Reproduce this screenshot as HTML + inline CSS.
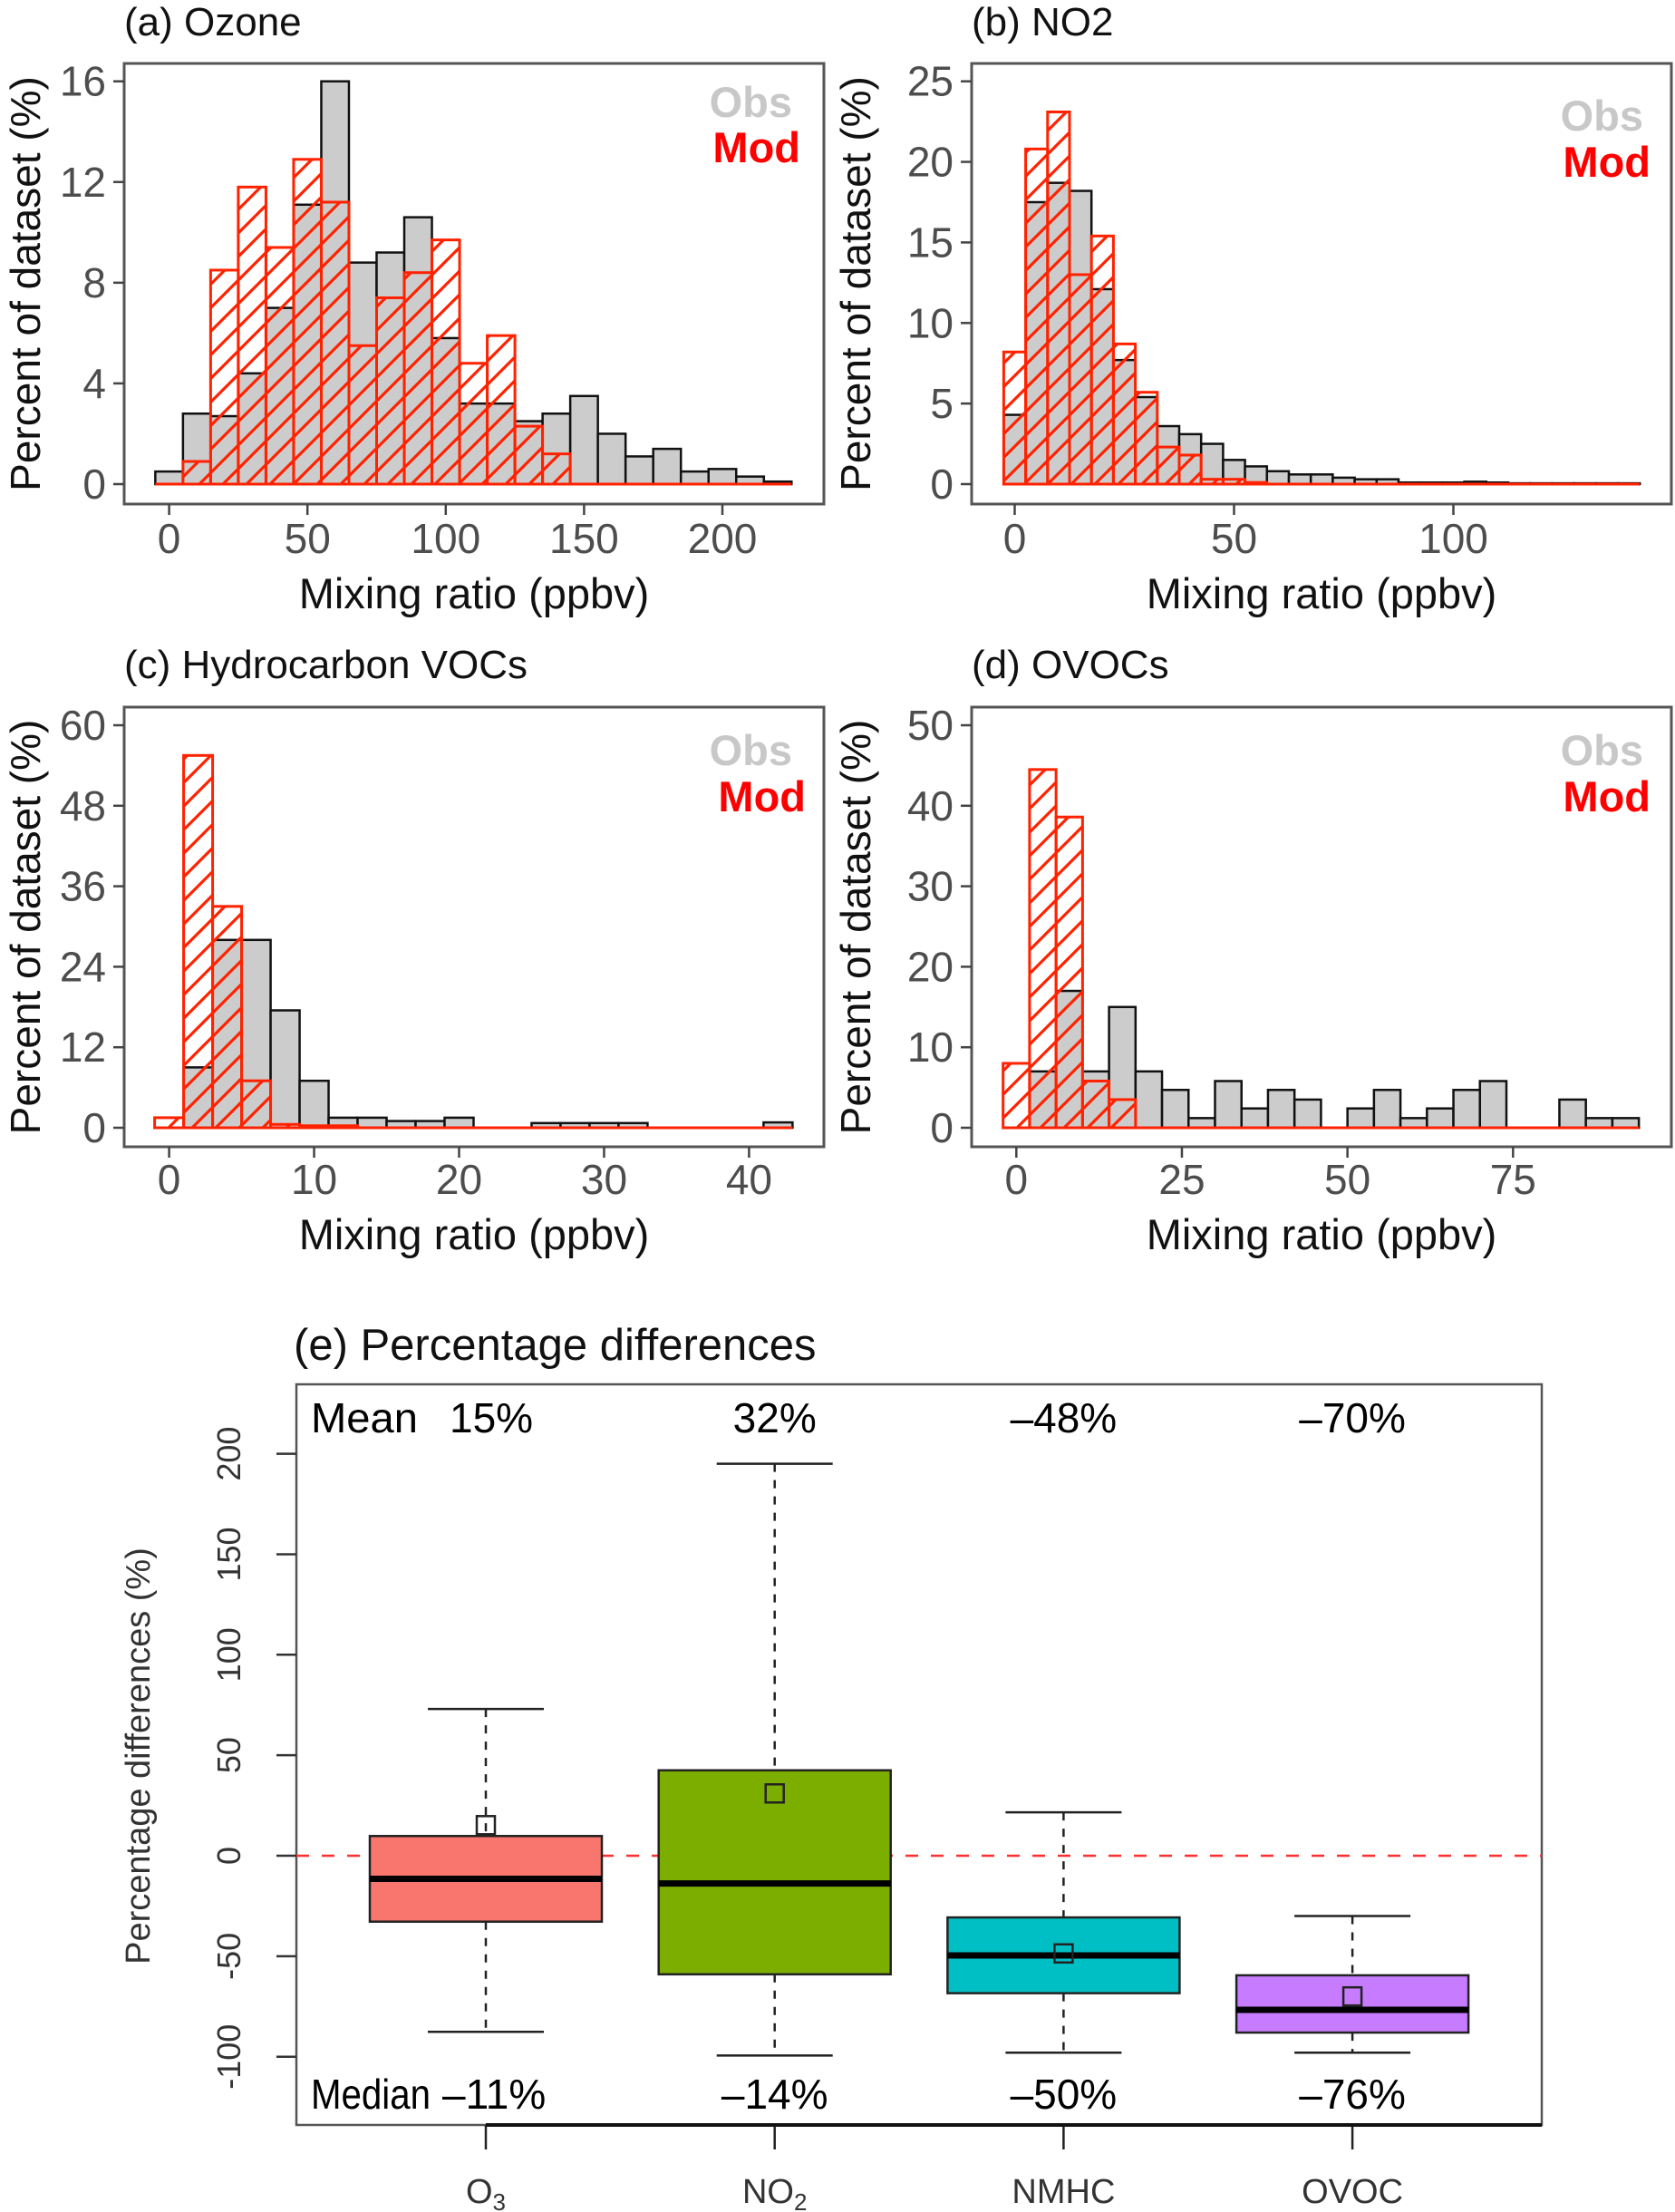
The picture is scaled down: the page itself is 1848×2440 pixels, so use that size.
<!DOCTYPE html>
<html><head><meta charset="utf-8"><style>
html,body{margin:0;padding:0;background:#fff;}
svg{display:block;font-family:"Liberation Sans",sans-serif;}
</style></head><body>
<svg id="fig" width="1848" height="2440" viewBox="0 0 1848 2440" xmlns="http://www.w3.org/2000/svg">
<defs>
<pattern id="hatch" patternUnits="userSpaceOnUse" width="26" height="26">
<line x1="-2" y1="28" x2="28" y2="-2" stroke="#ff2200" stroke-width="3.2"/>
<line x1="-6" y1="6" x2="6" y2="-6" stroke="#ff2200" stroke-width="3.2"/>
<line x1="20" y1="32" x2="32" y2="20" stroke="#ff2200" stroke-width="3.2"/>
</pattern>
</defs>
<g id="panels"></g>
</svg>
<script>
// ---- Histogram data (percent of dataset) ----
const ozoneBins = [0,10,20,30,40,50,60,70,80,90,100,110,120,130,140,150,160,170,180,190,200,210,220];
const ozoneObs  = [0.5,2.8,2.7,4.4,7.0,11.1,16.0,8.8,9.2,10.6,5.8,3.2,3.2,2.5,2.8,3.5,2.0,1.1,1.4,0.5,0.6,0.3,0.1];
const ozoneMod  = [0,0.9,8.5,11.8,9.4,12.9,11.2,5.5,7.4,8.4,9.7,4.8,5.9,2.3,1.2,0,0,0,0,0,0,0,0];
const ozoneYTicks = [0,4,8,12,16];
const ozoneXTicks = [0,50,100,150,200];

const no2Bins = [0,5,10,15,20,25,30,35,40,45,50,55,60,65,70,75,80,85,90,95,100,105,110,115,120,125,130,135,140];
const no2Obs  = [4.3,17.5,18.7,18.2,12.1,7.7,5.4,3.6,3.1,2.5,1.5,1.1,0.8,0.6,0.6,0.4,0.3,0.3,0.1,0.1,0.1,0.15,0.1,0.05,0.05,0.05,0.05,0.05,0.05];
const no2Mod  = [8.2,20.8,23.1,13.0,15.4,8.7,5.7,2.3,1.8,0.3,0.3,0.1,0,0,0,0,0,0,0,0,0,0,0,0,0,0,0,0,0];
const no2YTicks = [0,5,10,15,20,25];
const no2XTicks = [0,50,100];

const hcBins = [0,2,4,6,8,10,12,14,16,18,20,22,24,26,28,30,32,34,36,38,40,42];
const hcObs  = [0,9,28,28,17.5,7,1.5,1.5,1,1,1.5,0,0,0.7,0.7,0.7,0.7,0,0,0,0,0.8];
const hcMod  = [1.5,55.5,33,7,0.5,0.3,0.3,0,0,0,0,0,0,0,0,0,0,0,0,0,0,0];
const hcYTicks = [0,12,24,36,48,60];
const hcXTicks = [0,10,20,30,40];

const ovocBins = [0,4,8,12,16,20,24,28,32,36,40,44,48,52,56,60,64,68,72,76,80,84,88,92];
const ovocObs  = [0,7,17,7,15,7,4.7,1.2,5.8,2.4,4.7,3.5,0,2.4,4.7,1.2,2.4,4.7,5.8,0,0,3.5,1.2,1.2];
const ovocMod  = [8,44.5,38.6,5.8,3.5,0,0,0,0,0,0,0,0,0,0,0,0,0,0,0,0,0,0,0];
const ovocYTicks = [0,10,20,30,40,50];
const ovocXTicks = [0,25,50,75];

// ---- Boxplot data (percentage differences) ----
const boxCats    = ['O3','NO2','NMHC','OVOC'];
const boxUpper   = [73, 195, 21.6, -30];
const boxQ3      = [9.8, 42.5, -30.7, -59.5];
const boxMedian  = [-11.5, -13.8, -49.6, -76.7];
const boxQ1      = [-32.8, -59, -68.4, -88];
const boxLower   = [-87.6, -99.4, -98, -98];
const boxMean    = [15.2, 31, -48.6, -70];
const meanLabels = ['15%','32%','\u201348%','\u201370%'];
const medianLabels = ['\u201311%','\u201314%','\u201350%','\u201376%'];
const boxYTicks  = [-100,-50,0,50,100,150,200];

const NS = 'http://www.w3.org/2000/svg';
const root = document.getElementById('panels');
function mk(tag, attrs, parent, text){
  const e = document.createElementNS(NS, tag);
  for (const k in attrs) e.setAttribute(k, attrs[k]);
  if (text !== undefined) e.textContent = text;
  (parent || root).appendChild(e);
  return e;
}

function histogram(key, title, bins, obs, mod, yTicks, xTicks, binW, g){
  const grp = mk('g', {});
  
  
  const xs = v => g.x0 + (v - g.v0) * (g.x1 - g.x0) / (g.v1 - g.v0);
  const ys = v => g.y0 + (v - g.u0) * (g.y1 - g.y0) / (g.u1 - g.u0);
  const t = mk('text', {x: g.left, y: g.titleY, 'font-size': 44, fill: '#111'}, grp, title);
  
  
  function bar(c, v, fill, stroke, sw, name){
    const xa = xs(c - binW/2), xb = xs(c + binW/2);
    let el;
    if (v > 0) {
      el = mk('rect', {x: xa, y: ys(v), width: xb - xa, height: ys(0) - ys(v), fill: fill, stroke: stroke, 'stroke-width': sw}, grp);
    } else {
      el = mk('line', {x1: xa, x2: xb, y1: ys(0), y2: ys(0), stroke: stroke, 'stroke-width': sw}, grp);
    }
    
    
  }
  bins.forEach((c, i) => bar(c, obs[i], '#cccccc', '#111', 2.5, key + '-obs-bar'));
  bins.forEach((c, i) => bar(c, mod[i], 'url(#hatch)', '#ff2200', 3, key + '-mod-bar'));
  const f = mk('rect', {x: g.left, y: g.top, width: g.right - g.left, height: g.bottom - g.top, fill: 'none', stroke: '#555', 'stroke-width': 3}, grp);
  
  
  yTicks.forEach(v => {
    mk('line', {x1: g.left - 12, x2: g.left, y1: ys(v), y2: ys(v), stroke: '#444', 'stroke-width': 2.5}, grp);
    const l = mk('text', {x: g.left - 20, y: ys(v) + 16, 'font-size': 46, fill: '#4d4d4d', 'text-anchor': 'end'}, grp, String(v));
    
    
  });
  xTicks.forEach(v => {
    mk('line', {x1: xs(v), x2: xs(v), y1: g.bottom, y2: g.bottom + 12, stroke: '#444', 'stroke-width': 2.5}, grp);
    const l = mk('text', {x: xs(v), y: g.xTickY, 'font-size': 46, fill: '#4d4d4d', 'text-anchor': 'middle'}, grp, String(v));
    
    
  });
  const xt = mk('text', {x: (g.left + g.right)/2, y: g.xTitleY, 'font-size': 47, fill: '#111', 'text-anchor': 'middle'}, grp, 'Mixing ratio (ppbv)');
  
  
  const yt = mk('text', {x: 0, y: 0, 'font-size': 46, fill: '#111', 'text-anchor': 'middle', transform: 'translate(' + g.yTitleX + ',' + ((g.top + g.bottom)/2) + ') rotate(-90)'}, grp, 'Percent of dataset (%)');
  
  
  const lo = mk('text', {x: g.obsX, y: g.obsY, 'font-size': 47, 'font-weight': 'bold', fill: '#c8c8c8', 'text-anchor': 'end'}, grp, 'Obs');
  
  
  const lm = mk('text', {x: g.modX, y: g.modY, 'font-size': 47, 'font-weight': 'bold', fill: '#ff0000', 'text-anchor': 'end'}, grp, 'Mod');
  
  
}

histogram('ozone', '(a) Ozone', ozoneBins, ozoneObs, ozoneMod, ozoneYTicks, ozoneXTicks, 10,
  {left:137,right:909,top:70,bottom:556,x0:186.6,x1:797,v0:0,v1:200,y0:534,y1:89.7,u0:0,u1:16,titleY:39,xTickY:610,xTitleY:671,yTitleX:44,obsX:874,obsY:129,modX:883,modY:179});
histogram('no2', '(b) NO2', no2Bins, no2Obs, no2Mod, no2YTicks, no2XTicks, 5,
  {left:1072,right:1844,top:70,bottom:556,x0:1119.5,x1:1603.5,v0:0,v1:100,y0:534,y1:89.7,u0:0,u1:25,titleY:39,xTickY:610,xTitleY:671,yTitleX:960,obsX:1813,obsY:144,modX:1821,modY:195});
histogram('hydrocarbon', '(c) Hydrocarbon VOCs', hcBins, hcObs, hcMod, hcYTicks, hcXTicks, 2,
  {left:137,right:909,top:780,bottom:1265,x0:186.6,x1:826.4,v0:0,v1:40,y0:1244,y1:800,u0:0,u1:60,titleY:748,xTickY:1317,xTitleY:1378,yTitleX:44,obsX:874,obsY:844,modX:889,modY:895});
histogram('ovoc', '(d) OVOCs', ovocBins, ovocObs, ovocMod, ovocYTicks, ovocXTicks, 4,
  {left:1072,right:1844,top:780,bottom:1265,x0:1121.3,x1:1669.3,v0:0,v1:75,y0:1244,y1:800,u0:0,u1:50,titleY:748,xTickY:1317,xTitleY:1378,yTitleX:960,obsX:1813,obsY:844,modX:1821,modY:895});

// ---- Boxplot panel ----
(function(){
  const grp = mk('g', {});
  
  
  const L = 327, R = 1701, T = 1527, B = 2344;
  const ys = v => 2047 - v * 2.217;
  const xs = i => 536 + i * 318.7;
  const colors = ['#F8766D','#7CAE00','#00BFC4','#C77CFF'];
  const t = mk('text', {x: 324, y: 1500, 'font-size': 49, fill: '#111'}, grp, '(e) Percentage differences');
  
  
  const f = mk('rect', {x: L, y: T, width: R - L, height: B - T, fill: 'none', stroke: '#555', 'stroke-width': 2.5}, grp);
  
  
  const ref = mk('line', {x1: L, x2: R, y1: ys(0), y2: ys(0), stroke: '#ff3030', 'stroke-width': 2.5, 'stroke-dasharray': '14 14'}, grp);
  
  
  boxCats.forEach((c, i) => {
    const x = xs(i);
    const bg = mk('g', {}, grp);
    
    
    mk('line', {x1: x, x2: x, y1: ys(boxUpper[i]), y2: ys(boxQ3[i]), stroke: '#222', 'stroke-width': 2.5, 'stroke-dasharray': '9 9'}, bg);
    mk('line', {x1: x, x2: x, y1: ys(boxQ1[i]), y2: ys(boxLower[i]), stroke: '#222', 'stroke-width': 2.5, 'stroke-dasharray': '9 9'}, bg);
    mk('line', {x1: x - 64, x2: x + 64, y1: ys(boxUpper[i]), y2: ys(boxUpper[i]), stroke: '#222', 'stroke-width': 2.5}, bg);
    mk('line', {x1: x - 64, x2: x + 64, y1: ys(boxLower[i]), y2: ys(boxLower[i]), stroke: '#222', 'stroke-width': 2.5}, bg);
    mk('rect', {x: x - 128, y: ys(boxQ3[i]), width: 256, height: ys(boxQ1[i]) - ys(boxQ3[i]), fill: colors[i], stroke: '#222', 'stroke-width': 2.5}, bg);
    mk('line', {x1: x - 128, x2: x + 128, y1: ys(boxMedian[i]), y2: ys(boxMedian[i]), stroke: '#000', 'stroke-width': 7}, bg);
    const m = mk('rect', {x: x - 10, y: ys(boxMean[i]) - 10, width: 20, height: 20, fill: 'none', stroke: '#222', 'stroke-width': 2.5}, bg);
    
    
    mk('line', {x1: x, x2: x, y1: B, y2: B + 27, stroke: '#222', 'stroke-width': 2.5}, grp);
    const ml = mk('text', {x: i === 0 ? 496 : x, y: 1580, 'font-size': 46, fill: '#000', 'text-anchor': i === 0 ? 'start' : 'middle'}, grp, meanLabels[i]);
    
    
    const dl = mk('text', {x: i === 0 ? 488 : x, y: 2326, 'font-size': 46, fill: '#000', 'text-anchor': i === 0 ? 'start' : 'middle'}, grp, medianLabels[i]);
    
    
  });
  mk('line', {x1: xs(0), x2: R, y1: B, y2: B, stroke: '#111', 'stroke-width': 4}, grp);
  const mw = mk('text', {x: 343, y: 1580, 'font-size': 46, fill: '#000', textLength: 118, lengthAdjust: 'spacingAndGlyphs'}, grp, 'Mean');
  
  
  const dw = mk('text', {x: 343, y: 2326, 'font-size': 46, fill: '#000', textLength: 132, lengthAdjust: 'spacingAndGlyphs'}, grp, 'Median');
  
  
  const xl = [['O','3'],['NO','2'],['NMHC',''],['OVOC','']];
  xl.forEach((p, i) => {
    const tx = mk('text', {x: xs(i), y: 2430, 'font-size': 38, fill: '#333', 'text-anchor': 'middle'}, grp);
    
    
    mk('tspan', {}, tx, p[0]);
    if (p[1]) mk('tspan', {'font-size': 26, dy: 8}, tx, p[1]);
  });
  boxYTicks.forEach(v => {
    mk('line', {x1: L - 22, x2: L, y1: ys(v), y2: ys(v), stroke: '#333', 'stroke-width': 2.5}, grp);
    const l = mk('text', {x: 0, y: 0, 'font-size': 36, fill: '#333', 'text-anchor': 'middle', transform: 'translate(265,' + ys(v) + ') rotate(-90)'}, grp, String(v));
    
    
  });
  const yt = mk('text', {x: 0, y: 0, 'font-size': 38, fill: '#333', 'text-anchor': 'middle', transform: 'translate(165,1937) rotate(-90)'}, grp, 'Percentage differences (%)');
  
  
})();
</script>
</body></html>
